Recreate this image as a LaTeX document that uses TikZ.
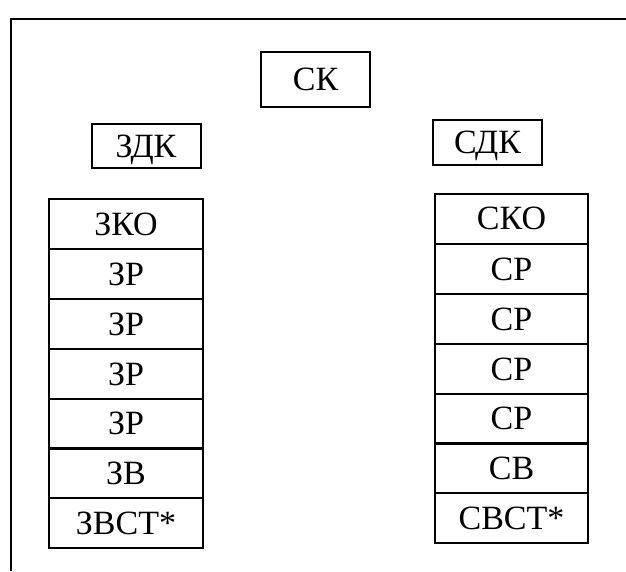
\documentclass[tikz,border=0pt]{standalone}
\usepackage{fontspec}
\setmainfont{Liberation Serif}
\begin{document}
\begin{tikzpicture}[x=1pt,y=-1pt,
  lbl/.style={draw=black,line width=2pt,inner sep=0pt,font=\fontsize{34}{38}\selectfont,text height=22.5pt,text depth=0pt,anchor=center},
  smallbox/.style={lbl,minimum width=109pt,minimum height=50pt},
  cell/.style={lbl,minimum width=154pt,minimum height=50pt}]
\useasboundingbox (0,0) rectangle (626,571);
% frame
\coordinate (ftop) at (626,19);
\coordinate (fcorner) at (11,19);
\coordinate (fbot) at (11,571);
\draw[line width=2pt] (ftop) -- (fcorner) -- (fbot);
% header boxes
\node[smallbox,minimum height=55pt] (sk) at (315.5,79.5) {СК};
\node[smallbox,minimum height=44pt] (zdk) at (146,146) {ЗДК};
\node[smallbox,minimum height=45pt] (sdk) at (487.5,142.5) {СДК};
% left column
\node[cell] (z1) at (126,224) {ЗКО};
\node[cell] (z2) at (126,274) {ЗР};
\node[cell] (z3) at (126,324) {ЗР};
\node[cell] (z4) at (126,374) {ЗР};
\node[cell] (z5) at (126,423.5) {ЗР};
\node[cell] (z6) at (126,473) {ЗВ};
\node[cell] (z7) at (126,523) {ЗВСТ*};
% right column
\node[cell,minimum width=153pt] (s1) at (511.5,218.5) {СКО};
\node[cell,minimum width=153pt] (s2) at (511.5,269) {СР};
\node[cell,minimum width=153pt] (s3) at (511.5,319) {СР};
\node[cell,minimum width=153pt] (s4) at (511.5,369) {СР};
\node[cell,minimum width=153pt] (s5) at (511.5,418.5) {СР};
\node[cell,minimum width=153pt] (s6) at (511.5,468) {СВ};
\node[cell,minimum width=153pt] (s7) at (511.5,518) {СВСТ*};
\end{tikzpicture}
\end{document}
